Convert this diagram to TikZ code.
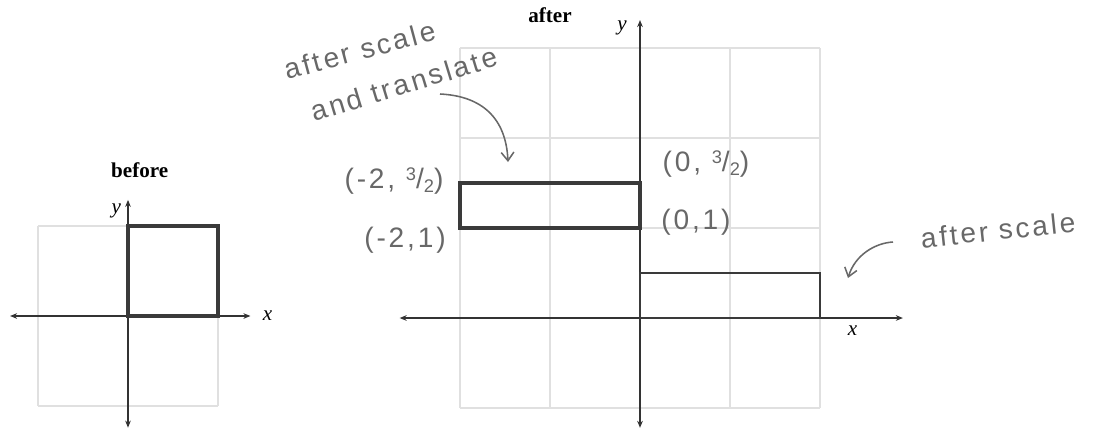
\documentclass[tikz,border=0pt]{standalone}
\usepackage{fontspec}
\setmainfont{Liberation Serif}
\newfontfamily\handfont[LetterSpace=10]{Liberation Sans}
\usetikzlibrary{arrows.meta}
\definecolor{gridc}{HTML}{E0E0E0}
\definecolor{axisc}{HTML}{333333}
\definecolor{shapec}{HTML}{3A3A3A}
\definecolor{handc}{HTML}{686868}
\newcommand{\hfrac}[2]{\raisebox{0.55ex}{\fontsize{13}{13}\selectfont #1}/\raisebox{-0.25ex}{\fontsize{13}{13}\selectfont #2}}
\tikzset{
 gridline/.style={draw=gridc, line width=0.8pt},
 axis/.style={draw=axisc, line width=1pt, {Stealth[length=5pt,width=4pt]}-{Stealth[length=5pt,width=4pt]}},
 thickbox/.style={draw=shapec, line width=2.2pt},
 thinbox/.style={draw=shapec, line width=1.8pt},
 titletext/.style={font=\fontsize{15}{17}\selectfont\bfseries, text=black},
 axlabel/.style={font=\fontsize{15}{17}\selectfont\itshape, text=black},
 hand/.style={text=handc, font=\handfont\fontsize{20}{22}\selectfont, inner sep=0pt},
 handarrow/.style={draw=handc, line width=1.1pt, -{Straight Barb[length=6pt,width=9pt]}},
}
\begin{document}
\begin{tikzpicture}[x=0.025cm,y=-0.025cm]
\useasboundingbox (0,0) rectangle (1100,437);
% ---------------- before ----------------
\begin{scope}[shift={(128,316)}, x=2.25cm, y=2.25cm]
 \draw[gridline, step=1] (-1,-1) grid (1,1);
 \coordinate (bxl) at (-1.31,0);
 \coordinate (bxr) at (1.36,0);
 \coordinate (byb) at (0,-1.24);
 \coordinate (byt) at (0,1.29);
 \draw[axis] (bxl) -- (bxr);
 \draw[axis] (byb) -- (byt);
 \coordinate (bO) at (0,0);
 \coordinate (b11) at (1,1);
 \draw[thickbox] (bO) rectangle (b11);
 \node[axlabel] (bylab) at (-0.13,1.17) {y};
 \node[axlabel] (bxlab) at (1.55,0) {x};
 \node[titletext] (before) at (0.13,1.62) {before};
\end{scope}
% ---------------- after ----------------
\begin{scope}[shift={(640,318)}, x=2.25cm, y=2.25cm]
 \draw[gridline, step=1] (-2,-1) grid (2,3);
 \coordinate (axl) at (-2.67,0);
 \coordinate (axr) at (2.92,0);
 \coordinate (ayb) at (0,-1.22);
 \coordinate (ayt) at (0,3.31);
 \draw[axis] (axl) -- (axr);
 \draw[axis] (ayb) -- (ayt);
 \coordinate (aO) at (0,0);
 \coordinate (a2h) at (2,0.5);
 \coordinate (tA) at (-2,1);
 \coordinate (tB) at (0,1.5);
 \draw[thinbox] (aO) rectangle (a2h);
 \draw[thickbox] (tA) rectangle (tB);
 \node[axlabel] (aylab) at (-0.2,3.22) {y};
 \node[axlabel] (axlab) at (2.36,-0.14) {x};
 \node[titletext] (after) at (-1.0,3.36) {after};
\end{scope}
% ---------------- handwritten notes ----------------
\node[hand, rotate=15] (n1) at (360,50) {after scale};
\node[hand, rotate=17] (n2) at (404,84) {and translate};
\coordinate (n2a) at (440,94);
\coordinate (n2b) at (508,162);
\draw[handarrow] (n2a) .. controls (482,96) and (506,118) .. (n2b);
\node[hand] (lA) at (394,181) {(-2, \hfrac{3}{2})};
\node[hand] (lB) at (405,240) {(-2,1)};
\node[hand] (lC) at (706,164) {(0, \hfrac{3}{2})};
\node[hand] (lD) at (696,222) {(0,1)};
\node[hand, rotate=6] (n3) at (998,230) {after scale};
\coordinate (n3a) at (893,242);
\coordinate (n3b) at (848,278);
\draw[handarrow] (n3a) .. controls (875,243) and (855,255) .. (n3b);
\end{tikzpicture}
\end{document}
